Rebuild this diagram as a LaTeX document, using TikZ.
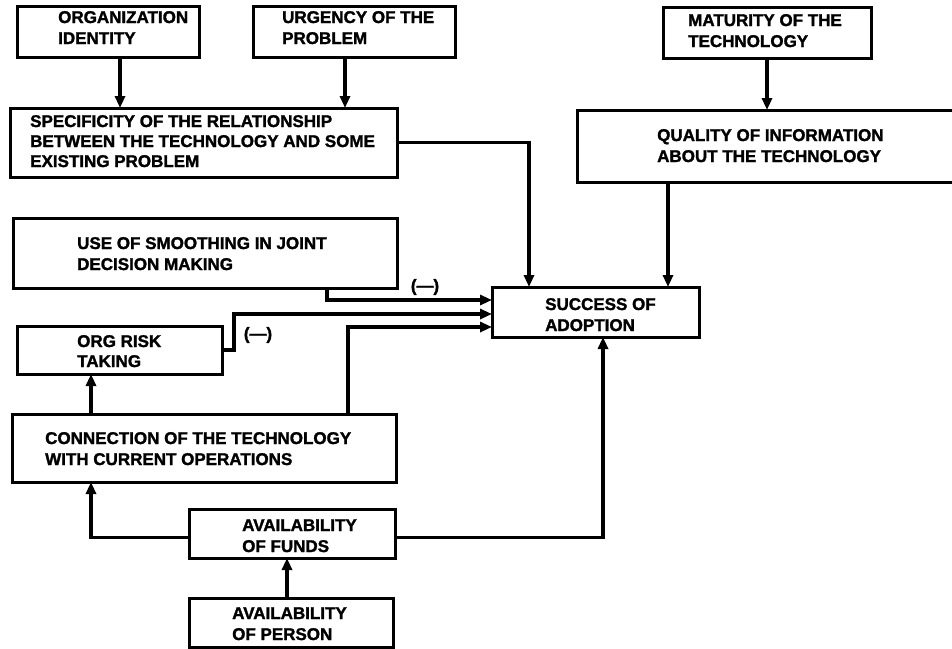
\documentclass[tikz,border=0pt]{standalone}
\usepackage{fontspec}
\newfontfamily\heavy[FakeBold=1.6]{Liberation Sans Bold}
\usetikzlibrary{arrows.meta}
\begin{document}
\begin{tikzpicture}[x=1pt,y=-1pt,
  box/.style={draw, line width=3pt, inner sep=0pt, outer sep=0pt},
  txt/.style={font=\fontsize{17}{21}\selectfont\heavy, align=left, inner sep=0pt, anchor=base west},
  arr/.style={line width=3.4pt, -{Triangle[length=12pt,width=10pt]}},
  sgn/.style={font=\fontsize{17}{21}\selectfont\heavy, inner sep=0pt}]
\useasboundingbox (0,0) rectangle (952,648);
\clip (0,0) rectangle (952,648);
% boxes
\node[box, minimum width=182pt, minimum height=51pt] (org) at (108,31.5) {};
\node[box, minimum width=202pt, minimum height=51pt] (urg) at (354,31.5) {};
\node[box, minimum width=208pt, minimum height=51pt] (mat) at (767,32.5) {};
\node[box, minimum width=387pt, minimum height=69pt] (spec) at (203.5,142.5) {};
\node[box, minimum width=423pt, minimum height=72pt] (qual) at (788.5,146) {};
\node[box, minimum width=384pt, minimum height=70pt] (smooth) at (205,253) {};
\node[box, minimum width=207pt, minimum height=50pt] (succ) at (595.5,312) {};
\node[box, minimum width=205pt, minimum height=48pt] (risk) at (119.5,350) {};
\node[box, minimum width=384pt, minimum height=68pt] (conn) at (204,448) {};
\node[box, minimum width=206pt, minimum height=49pt] (funds) at (292,533.5) {};
\node[box, minimum width=204pt, minimum height=49pt] (person) at (291,622.5) {};
% texts (anchored at the baseline of the last line)
\node[txt] (orgT) at (58,44) {ORGANIZATION\\IDENTITY};
\node[txt] (urgT) at (282,44) {URGENCY OF THE\\PROBLEM};
\node[txt] (matT) at (688,47) {MATURITY OF THE\\TECHNOLOGY};
\node[txt, font=\fontsize{17}{20}\selectfont\heavy] (specT) at (30,167) {SPECIFICITY OF THE RELATIONSHIP\\BETWEEN THE TECHNOLOGY AND SOME\\EXISTING PROBLEM};
\node[txt] (qualT) at (657,162) {QUALITY OF INFORMATION\\ABOUT THE TECHNOLOGY};
\node[txt] (smoothT) at (77,270) {USE OF SMOOTHING IN JOINT\\DECISION MAKING};
\node[txt] (succT) at (545,331) {SUCCESS OF\\ADOPTION};
\node[txt, font=\fontsize{17}{20}\selectfont\heavy] (riskT) at (77,367) {ORG RISK\\TAKING};
\node[txt] (connT) at (45,465) {CONNECTION OF THE TECHNOLOGY\\WITH CURRENT OPERATIONS};
\node[txt] (fundsT) at (242,552) {AVAILABILITY\\OF FUNDS};
\node[txt] (personT) at (232,640) {AVAILABILITY\\OF PERSON};
% signs
\node[sgn] (sgn1) at (425,287) {(—)};
\node[sgn] (sgn2) at (258,335) {(—)};
% connector anchor points
\coordinate (o1) at ([xshift=12pt]org.south);
\coordinate (u1) at ([xshift=-9pt]urg.south);
\coordinate (s2) at ([xshift=-66.5pt]succ.north);
\coordinate (q2) at ([xshift=72.5pt]succ.north);
\coordinate (m1) at ([xshift=122pt]smooth.south);
\coordinate (m2) at ([yshift=12pt]succ.west);
\coordinate (r2) at ([yshift=-2pt]succ.west);
\coordinate (c1) at ([xshift=144pt]conn.north);
\coordinate (c2) at ([yshift=-15pt]succ.west);
\coordinate (c3) at ([xshift=-113pt]conn.north);
\coordinate (c4) at ([xshift=-113pt]conn.south);
\coordinate (f1) at ([yshift=-4pt]funds.west);
\coordinate (f2) at ([yshift=-4pt]funds.east);
\coordinate (f3) at ([xshift=7.5pt]succ.south);
\coordinate (p1) at ([xshift=-4pt]person.north);
% connectors
\draw[arr] (o1) -- (o1 |- spec.north);
\draw[arr] (u1) -- (u1 |- spec.north);
\draw[arr] (mat.south) -- (mat.south |- qual.north);
\draw[arr] (spec.east) -| (s2);
\draw[arr] (q2 |- qual.south) -- (q2);
\draw[arr] (m1) |- (m2);
\draw[arr] (risk.east) -- ++(12,0) |- (r2);
\draw[arr] (c1) |- (c2);
\draw[arr] (c3) -- (c3 |- risk.south);
\draw[arr] (f1) -| (c4);
\draw[arr] (f2) -| (f3);
\draw[arr] (p1) -- (p1 |- funds.south);
\end{tikzpicture}
\end{document}
